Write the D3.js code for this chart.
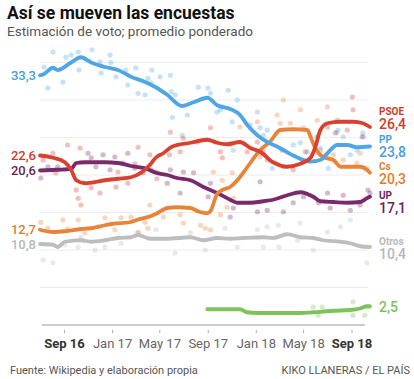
<!DOCTYPE html>
<html><head><meta charset="utf-8">
<script src="https://cdn.jsdelivr.net/npm/d3@7"></script>
<style>
html,body{margin:0;padding:0;background:#fff;}
svg{display:block;font-family:Roboto,"Open Sans",sans-serif;}
</style></head><body>
<svg id="c" width="414" height="379"></svg>
<script>
// ---- DATA ----
const tickDates = ["2016-09-01","2017-01-01","2017-05-01","2017-09-01","2018-01-01","2018-05-01","2018-09-01"];
const tickLabels = ["Sep 16","Jan 17","May 17","Sep 17","Jan 18","May 18","Sep 18"];
const tickBold = [true,false,false,false,false,false,true];
const gridValues = [5,10,15,20,25,30,35];

const ppLine = [["2016-07-02",33.3],["2016-07-10",33.4],["2016-08-04",34.3],["2016-08-16",34.0],["2016-09-19",35.0],["2016-10-14",35.7],["2016-11-09",35.0],["2016-12-14",34.4],["2017-01-16",34.0],["2017-02-18",33.1],["2017-03-26",32.4],["2017-04-22",31.7],["2017-05-21",30.7],["2017-06-28",29.2],["2017-07-27",29.7],["2017-08-31",30.3],["2017-09-25",29.3],["2017-10-28",28.8],["2017-11-22",28.0],["2017-12-10",26.7],["2018-01-05",25.3],["2018-01-30",24.4],["2018-02-24",23.8],["2018-04-06",22.6],["2018-05-20",21.8],["2018-06-14",22.0],["2018-07-02",22.9],["2018-07-27",24.0],["2018-08-21",24.0],["2018-09-15",23.7],["2018-10-18",23.8]];
const psoeLine = [["2016-07-02",22.6],["2016-08-04",22.3],["2016-09-03",21.7],["2016-09-19",20.7],["2016-10-02",19.3],["2016-10-24",18.9],["2016-12-14",19.3],["2017-01-16",19.5],["2017-02-18",19.7],["2017-04-08",21.4],["2017-04-22",22.3],["2017-05-11",22.9],["2017-06-03",23.8],["2017-07-19",24.3],["2017-08-31",24.7],["2017-09-25",24.3],["2017-10-20",24.1],["2017-11-22",24.4],["2017-12-18",23.6],["2018-01-12",23.1],["2018-02-14",21.7],["2018-03-22",21.1],["2018-04-24",21.5],["2018-05-20",22.3],["2018-06-01",23.7],["2018-06-14",26.0],["2018-07-02",26.9],["2018-08-04",27.1],["2018-09-05",27.1],["2018-09-30",26.9],["2018-10-18",26.4]];
const csLine = [["2016-07-02",12.7],["2016-08-04",12.4],["2016-09-03",12.5],["2016-10-14",12.8],["2016-11-09",12.9],["2016-12-14",13.3],["2017-01-03",13.5],["2017-02-15",13.7],["2017-03-10",14.1],["2017-04-08",14.5],["2017-04-22",14.8],["2017-05-21",15.6],["2017-06-15",15.7],["2017-07-19",15.6],["2017-08-10",15.1],["2017-08-31",14.9],["2017-09-08",15.2],["2017-09-25",17.5],["2017-10-08",18.0],["2017-10-28",18.4],["2017-11-15",19.3],["2017-11-30",20.3],["2017-12-18",21.6],["2018-01-05",22.9],["2018-01-20",23.7],["2018-02-07",24.5],["2018-03-04",26.0],["2018-04-06",26.1],["2018-05-12",26.0],["2018-05-20",25.1],["2018-06-01",23.6],["2018-06-21",22.4],["2018-07-17",22.0],["2018-08-04",21.1],["2018-09-23",21.1],["2018-10-10",20.7],["2018-10-18",20.3]];
const upLine = [["2016-07-02",20.6],["2016-08-16",20.7],["2016-09-19",20.8],["2016-10-02",21.6],["2016-10-24",21.7],["2016-12-14",21.7],["2017-01-16",21.6],["2017-02-18",21.2],["2017-03-26",20.9],["2017-04-22",20.3],["2017-05-21",20.0],["2017-06-15",19.6],["2017-07-19",19.3],["2017-08-21",18.4],["2017-09-25",17.6],["2017-10-28",16.7],["2017-11-15",16.3],["2017-12-18",16.3],["2018-01-20",16.5],["2018-02-14",16.7],["2018-03-22",17.3],["2018-04-24",17.7],["2018-05-27",17.1],["2018-06-14",16.5],["2018-07-17",16.4],["2018-08-21",16.3],["2018-09-23",16.4],["2018-10-10",16.9],["2018-10-18",17.1]];
const otrosLine = [["2016-07-02",10.8],["2016-08-04",10.7],["2016-08-16",10.4],["2016-09-03",11.1],["2016-10-14",11.3],["2016-11-09",11.1],["2016-12-14",11.3],["2017-01-16",11.6],["2017-02-18",11.7],["2017-03-08",12.0],["2017-04-08",11.5],["2017-05-21",11.5],["2017-07-19",11.7],["2017-08-21",11.3],["2017-09-25",11.6],["2017-10-28",11.5],["2017-11-30",11.6],["2018-01-20",11.7],["2018-02-14",11.6],["2018-03-22",12.1],["2018-04-24",11.7],["2018-05-27",11.6],["2018-06-21",11.3],["2018-08-04",11.1],["2018-08-29",10.9],["2018-09-23",10.5],["2018-10-18",10.4]];
const voxLine = [["2017-08-31",2.1],["2017-11-22",2.1],["2017-12-10",1.7],["2018-01-05",1.6],["2018-04-24",1.6],["2018-05-27",1.7],["2018-07-17",1.9],["2018-08-29",2.0],["2018-09-23",2.2],["2018-10-10",2.5],["2018-10-18",2.5]];

const ppDots = [["2016-07-12",34.4],["2016-08-04",36.4],["2016-07-22",31.6],["2016-08-29",32.4],["2016-09-06",35.7],["2016-09-19",36],["2016-10-07",36.4],["2016-10-09",34],["2016-11-11",36.7],["2016-12-01",35.1],["2016-12-04",33.6],["2016-12-27",36],["2016-12-29",35],["2017-01-11",33.1],["2017-02-05",34],["2017-02-10",32],["2017-03-02",34.3],["2017-03-08",30.9],["2017-03-26",30.7],["2017-04-02",32.9],["2017-04-10",32.3],["2017-04-12",34],["2017-05-03",33.1],["2017-05-29",33.3],["2017-05-31",31.1],["2017-06-10",30.7],["2017-06-03",27.7],["2017-06-28",25.3],["2017-07-11",28],["2017-08-08",31.7],["2017-09-02",31.6],["2017-09-08",30.9],["2017-09-25",28.4],["2017-10-08",29.1],["2017-10-23",31.3],["2017-11-02",27.1],["2017-11-15",30],["2017-12-18",26.7],["2018-01-05",28.4],["2018-01-12",26.3],["2018-01-20",25.3],["2017-10-03",28.7],["2017-11-05",23.3],["2018-01-14",22.9],["2018-02-12",20.9],["2018-03-12",21.1],["2018-06-14",23.6],["2018-07-04",20.9],["2018-08-11",25.1],["2018-09-30",25.6],["2018-09-15",23.3],["2018-07-29",26],["2018-04-24",24.3],["2018-01-30",26],["2018-04-06",24],["2018-05-12",23.1],["2018-07-25",25.7],["2018-08-29",22.7],["2018-09-28",25.1]];
const psoeDots = [["2016-07-10",22],["2016-08-04",22.9],["2016-08-11",20.3],["2016-09-10",24],["2016-10-12",23.6],["2016-10-07",16.9],["2016-10-14",16],["2016-10-02",18],["2016-11-09",18.3],["2016-12-01",17.6],["2017-01-11",18.4],["2017-02-10",18.9],["2017-03-08",23.7],["2017-04-07",22.7],["2017-01-16",20.4],["2017-05-29",25.7],["2017-07-01",24.9],["2017-09-08",26.3],["2017-08-06",24.4],["2017-10-03",23.1],["2017-05-27",22.7],["2017-06-23",23.1],["2017-10-28",24.2],["2018-01-05",24.4],["2017-12-10",23.1],["2018-01-20",23.1],["2017-10-08",22.3],["2018-01-30",22],["2018-03-09",23.3],["2018-04-06",20.7],["2018-05-07",23.1],["2018-06-06",25.1],["2018-07-02",26.4],["2018-07-27",27.3],["2018-08-21",26],["2018-09-05",28.7],["2018-09-30",25.1],["2018-07-22",25.6],["2018-09-03",30.4],["2017-04-25",19.5],["2017-02-28",21.5]];
const csDots = [["2016-07-04",13.7],["2016-07-22",12.9],["2016-08-29",14],["2016-09-10",12.8],["2016-10-07",14],["2016-10-24",12.3],["2016-11-26",13.1],["2016-12-14",14.3],["2017-01-08",12.7],["2017-01-24",14.3],["2017-02-18",14.4],["2017-03-08",12.3],["2017-03-26",13.7],["2017-04-07",16],["2017-04-02",12.9],["2017-05-11",14.4],["2017-06-23",14.7],["2017-07-01",13.6],["2017-08-14",13.3],["2017-08-26",12.9],["2017-09-08",12.7],["2017-10-03",14.7],["2017-10-08",19.3],["2017-11-05",16.9],["2017-10-20",15.7],["2017-09-15",20.4],["2017-10-28",24],["2017-11-02",20.3],["2017-11-22",26.4],["2018-01-05",27.1],["2018-01-12",22.4],["2018-02-24",28],["2018-03-04",26.9],["2018-03-30",26.9],["2018-04-24",28.7],["2018-05-02",26.3],["2018-06-06",27.3],["2018-06-14",23.3],["2018-07-17",22.7],["2018-08-11",22],["2018-09-15",21.6],["2018-09-23",22.9],["2018-10-10",20.9],["2018-07-02",29.1],["2018-03-12",30]];
const upDots = [["2016-07-04",19.6],["2016-07-22",21.1],["2016-08-16",21.1],["2016-11-01",22.9],["2016-11-09",22.3],["2016-11-21",21.1],["2016-12-09",22.7],["2016-12-27",20.7],["2017-01-08",22.4],["2017-01-29",21.6],["2017-02-10",22.9],["2017-02-28",20.9],["2017-03-21",20.3],["2017-04-10",20.7],["2017-04-22",20.4],["2017-05-29",20.7],["2017-07-01",20.4],["2017-05-21",18.9],["2017-06-23",17.6],["2017-07-27",20.3],["2017-09-08",18.9],["2017-09-02",17.1],["2017-11-05",15.6],["2017-10-28",14.4],["2018-01-05",15.1],["2018-01-12",19.1],["2018-01-30",15.3],["2018-03-12",15.1],["2018-04-06",16.3],["2018-05-02",17.1],["2018-06-09",16.3],["2018-07-02",17.6],["2018-07-09",15.6],["2018-08-11",17.3],["2018-08-29",15.3],["2018-09-23",16],["2018-10-13",18],["2018-10-18",17.6]];
const otrosDots = [["2016-07-10",8.7],["2016-08-04",8.3],["2016-10-07",10.4],["2016-10-14",11.7],["2016-12-14",10.4],["2017-01-24",10.9],["2017-03-08",12.4],["2017-04-02",11.6],["2016-09-03",10.7],["2016-11-19",10],["2017-04-22",12.7],["2017-06-10",9.6],["2017-07-19",12.3],["2017-08-26",10],["2017-10-15",12.9],["2017-11-15",10.4],["2018-01-05",12.7],["2018-01-20",10.4],["2018-01-30",13.1],["2018-02-27",13.3],["2018-04-24",13.6],["2018-05-27",10],["2018-08-04",13.1],["2018-08-29",14],["2018-10-10",8.3],["2018-07-02",12.4],["2018-03-01",10.4],["2018-04-17",11.3]];
const voxDots = [["2018-05-27",2.4],["2018-06-19",2.4],["2018-09-05",3.1],["2018-09-05",1.3],["2018-10-05",1.3],["2018-10-13",2.4],["2018-06-09",1.3]];

const parties = ["Otros","Vox","UP","Cs","PP","PSOE"];
const lineColors = {PP:"#4ea6e6",PSOE:"#d8402f",Cs:"#e8843a",UP:"#7a2a6a",Otros:"#bdbdbd",Vox:"#7dc25b"};
const labelColors = {PP:"#47a0df",PSOE:"#d13a2c",Cs:"#e27d30",UP:"#6c1e5c",Otros:"#b8b8b8",Vox:"#7dc25b"};
const lines = {PP:ppLine,PSOE:psoeLine,Cs:csLine,UP:upLine,Otros:otrosLine,Vox:voxLine};
const dots = {PP:ppDots,PSOE:psoeDots,Cs:csDots,UP:upDots,Otros:otrosDots,Vox:voxDots};
const startLabels = [["PP","33,3"],["PSOE","22,6"],["UP","20,6"],["Cs","12,7"],["Otros","10,8"]];
const endLabels = [["PSOE","PSOE","26,4"],["PP","PP","23,8"],["Cs","Cs","20,3"],["UP","UP","17,1"],["Otros","Otros","10,4"],["Vox","","2,5"]];

// ---- CHART ----
const parse = d3.timeParse("%Y-%m-%d");
const svg = d3.select("#c");
const x = d3.scaleTime().domain([parse("2016-07-02"), parse("2018-10-18")]).range([40, 370]);
const y = d3.scaleLinear().domain([0, 35]).range([325, 62.5]);

svg.append("text").attr("x",7).attr("y",19).attr("font-size",17.5).attr("font-weight",700).attr("fill","#111").text("Así se mueven las encuestas");
svg.append("text").attr("x",7).attr("y",36).attr("font-size",13.5).attr("fill","#555").text("Estimación de voto; promedio ponderado");

svg.append("g").selectAll("line").data(gridValues).join("line")
  .attr("x1",40).attr("x2",368).attr("y1",d=>y(d)).attr("y2",d=>y(d))
  .attr("stroke","#ececec").attr("stroke-width",1);

const dotG = svg.append("g");
parties.forEach(p=>{
  dotG.append("g").selectAll("circle").data(dots[p]).join("circle")
    .attr("cx",d=>x(parse(d[0]))).attr("cy",d=>y(d[1])).attr("r",2.6)
    .attr("fill",lineColors[p]).attr("fill-opacity",0.33);
});

const lineGen = d3.line().x(d=>x(parse(d[0]))).y(d=>y(d[1])).curve(d3.curveMonotoneX);
parties.forEach(p=>{
  svg.append("path").datum(lines[p]).attr("d",lineGen).attr("fill","none")
    .attr("stroke",lineColors[p]).attr("stroke-width",3.8).attr("stroke-linejoin","round").attr("stroke-linecap","round");
});

// baseline
svg.append("line").attr("x1",x.range()[0]+2).attr("x2",365).attr("y1",y(0)).attr("y2",y(0)).attr("stroke","#999").attr("stroke-width",1);
const ax = svg.append("g").attr("transform",`translate(0,${y(0)+5})`)
  .call(d3.axisBottom(x).tickValues(tickDates.map(parse)).tickSize(3).tickPadding(6).tickFormat((d,i)=>tickLabels[i]));
ax.select(".domain").remove();
ax.selectAll("line").attr("stroke","#aaa");
ax.selectAll("text").attr("font-size",13).attr("font-family","Roboto,sans-serif")
  .attr("fill",(d,i)=>tickBold[i]?"#333":"#666").attr("font-weight",(d,i)=>tickBold[i]?700:400);

// start labels
startLabels.forEach(([p,t])=>{
  const v = lines[p][0][1];
  svg.append("text").attr("x",36).attr("y",y(v)).attr("dy","0.36em").attr("text-anchor","end")
    .attr("font-size",13).attr("font-weight",500).attr("fill",labelColors[p]).text(t);
});
// end labels
const endY = {PSOE:124,PP:152,Cs:178.5,UP:208,Otros:254,Vox:307};
endLabels.forEach(([p,name,val])=>{
  const yy = endY[p];
  if(name) svg.append("text").attr("x",379).attr("y",yy-12.5).attr("dy","0.36em")
    .attr("font-size",10).attr("font-weight",700).attr("fill",labelColors[p]).text(name);
  svg.append("text").attr("x",379).attr("y",yy).attr("dy","0.36em")
    .attr("font-size",14).attr("font-weight",500).attr("fill",labelColors[p]).text(val);
});

svg.append("text").attr("x",10).attr("y",374).attr("font-size",11).attr("fill","#555").text("Fuente: Wikipedia y elaboración propia");
svg.append("text").attr("x",410).attr("y",374).attr("text-anchor","end").attr("font-size",11).attr("fill","#555").text("KIKO LLANERAS / EL PAÍS");
</script></body></html>
